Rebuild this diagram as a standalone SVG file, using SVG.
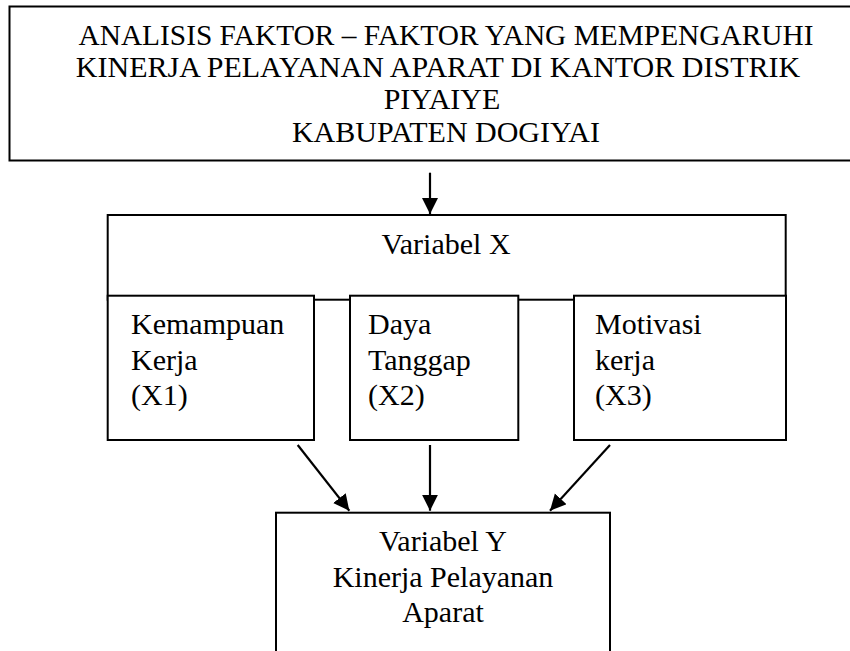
<svg xmlns="http://www.w3.org/2000/svg" width="850" height="651" viewBox="0 0 850 651">
<style>
.box{fill:#fff;stroke:#000;stroke-width:2}
.t{font-family:"Liberation Serif","DejaVu Serif",serif;font-size:30px;fill:#000}
.c{text-anchor:middle}
.conn{stroke:#000;stroke-width:2.2;fill:none}
</style>
<defs>
<marker id="ah" markerUnits="userSpaceOnUse" markerWidth="16" markerHeight="17" refX="16" refY="8" orient="auto">
<path d="M0,0 L16,8 L0,16 Z" fill="#000"/>
</marker>
</defs>
<g id="title">
<rect class="box" x="9.5" y="6.5" width="850" height="154"/>
<text class="t c" x="446" y="45" textLength="735" lengthAdjust="spacingAndGlyphs">ANALISIS FAKTOR – FAKTOR YANG MEMPENGARUHI</text>
<text class="t c" x="438" y="77">KINERJA PELAYANAN APARAT DI KANTOR DISTRIK</text>
<text class="t c" x="442" y="109">PIYAIYE</text>
<text class="t c" x="446" y="142">KABUPATEN DOGIYAI</text>
</g>
<g id="varX">
<rect class="box" x="107.7" y="215" width="678" height="84.7"/>
<text class="t c" x="446" y="254">Variabel X</text>
</g>
<g id="x1">
<rect class="box" x="107.7" y="295.7" width="206.3" height="144.3"/>
<text class="t" x="131" y="334">Kemampuan</text>
<text class="t" x="131" y="369.5">Kerja</text>
<text class="t" x="131" y="405">(X1)</text>
</g>
<g id="x2">
<rect class="box" x="350" y="295.7" width="168.3" height="144.3"/>
<text class="t" x="368" y="334">Daya</text>
<text class="t" x="368" y="369.5">Tanggap</text>
<text class="t" x="368" y="405">(X2)</text>
</g>
<g id="x3">
<rect class="box" x="574" y="295.7" width="212" height="144.3"/>
<text class="t" x="595" y="334">Motivasi</text>
<text class="t" x="595" y="369.5">kerja</text>
<text class="t" x="595" y="405">(X3)</text>
</g>
<g id="varY">
<rect class="box" x="276" y="512.7" width="334" height="160"/>
<text class="t c" x="443" y="551">Variabel Y</text>
<text class="t c" x="443" y="587">Kinerja Pelayanan</text>
<text class="t c" x="443" y="622">Aparat</text>
</g>
<g id="connectors">
<line class="conn" x1="430" y1="172.7" x2="430" y2="214" marker-end="url(#ah)"/>
<line class="conn" x1="297.7" y1="445" x2="349.3" y2="510.7" marker-end="url(#ah)"/>
<line class="conn" x1="430" y1="445" x2="430" y2="510.7" marker-end="url(#ah)"/>
<line class="conn" x1="610" y1="445" x2="550" y2="510.7" marker-end="url(#ah)"/>
</g>
</svg>
